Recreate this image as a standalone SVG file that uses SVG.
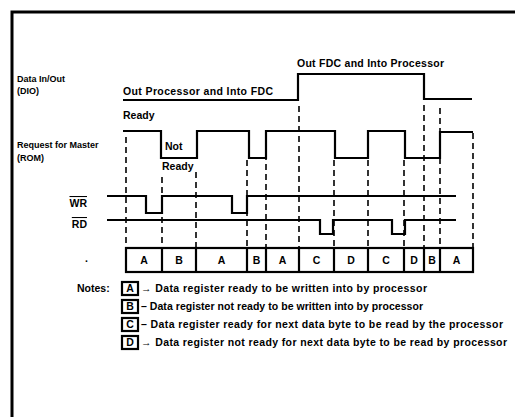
<svg xmlns="http://www.w3.org/2000/svg" width="515" height="417" viewBox="0 0 515 417">
<style>
  .lbl { font-family: "Liberation Sans", Arial, sans-serif; font-size: 9px; font-weight: bold; fill: #000; }
  .big { font-family: "Liberation Sans", Arial, sans-serif; font-size: 10.5px; font-weight: bold; fill: #000; }
  .note { font-family: "Liberation Sans", Arial, sans-serif; font-size: 10.5px; font-weight: bold; fill: #000; }
  .box { font-family: "Liberation Sans", Arial, sans-serif; font-size: 10.5px; font-weight: bold; fill: #000; text-anchor: middle; }
  .wave { fill: none; stroke: #000; stroke-width: 2.2; stroke-linejoin: miter; }
  .dash { fill: none; stroke: #000; stroke-width: 1.6; stroke-dasharray: 6 4; }
  .cell { fill: #fff; stroke: #000; stroke-width: 2.2; }
</style>
<rect width="515" height="417" fill="#fff"/>
<path d="M12,417 V12 H515" fill="none" stroke="#000" stroke-width="3"/>

<g id="labels">
  <text class="lbl" x="17" y="82">Data In/Out</text>
  <text class="lbl" x="17" y="94">(DIO)</text>
  <text class="lbl" x="17" y="148">Request for Master</text>
  <text class="lbl" x="17" y="161">(ROM)</text>
  <text class="big" x="87" y="207" text-anchor="end" text-decoration="overline">WR</text>
  <text class="big" x="87" y="228" text-anchor="end" text-decoration="overline">RD</text>
  <text class="big" x="85" y="262">.</text>
</g>

<g id="dio">
  <polyline class="wave" points="123,100 298,100 298,74 424,74 424,99 472,99"/>
  <text class="big" x="123" y="95" textLength="150" lengthAdjust="spacing">Out Processor and Into FDC</text>
  <text class="big" x="297" y="67" textLength="147" lengthAdjust="spacing">Out FDC and Into Processor</text>
</g>

<g id="rom">
  <polyline class="wave" points="123,131 161,131 161,158 197,158 197,131 249,131 249,158 266,158 266,131 335,131 335,158 368,158 368,131 405,131 405,158 440,158 440,132 473,132"/>
  <text class="big" x="123" y="119">Ready</text>
  <text class="big" x="165" y="150">Not</text>
  <text class="big" x="162" y="170">Ready</text>
</g>

<g id="wr">
  <polyline class="wave" points="107,196 146,196 146,213 162,213 162,196 232,196 232,213 247,213 247,196 456,196"/>
</g>

<g id="rd">
  <polyline class="wave" points="107,220 320,220 320,234 333,234 333,220 392,220 392,234 405,234 405,220 456,220"/>
</g>

<g id="connectors">
  <line class="dash" x1="126" y1="137" x2="126" y2="248"/>
  <line class="dash" x1="162" y1="177" x2="162" y2="248"/>
  <line class="dash" x1="196" y1="172" x2="196" y2="248"/>
  <line class="dash" x1="247" y1="160" x2="247" y2="248"/>
  <line class="dash" x1="266" y1="134" x2="266" y2="248"/>
  <line class="dash" x1="299" y1="106" x2="299" y2="248"/>
  <line class="dash" x1="334" y1="160" x2="334" y2="248"/>
  <line class="dash" x1="368" y1="160" x2="368" y2="248"/>
  <line class="dash" x1="404" y1="160" x2="404" y2="248"/>
  <line class="dash" x1="424" y1="105" x2="424" y2="248"/>
  <line class="dash" x1="440" y1="108" x2="440" y2="248"/>
  <line class="dash" x1="473" y1="133" x2="473" y2="248"/>
</g>

<g id="states">
  <rect class="cell" x="126" y="248" width="347" height="24"/>
  <path d="M162,248V272 M196,248V272 M247,248V272 M266,248V272 M299,248V272 M334,248V272 M368,248V272 M404,248V272 M424,248V272 M440,248V272" stroke="#000" stroke-width="2.2"/>
  <text class="box" x="144" y="264">A</text>
  <text class="box" x="179" y="264">B</text>
  <text class="box" x="221.5" y="264">A</text>
  <text class="box" x="256.5" y="264">B</text>
  <text class="box" x="282.5" y="264">A</text>
  <text class="box" x="316.5" y="264">C</text>
  <text class="box" x="351" y="264">D</text>
  <text class="box" x="386" y="264">C</text>
  <text class="box" x="414" y="264">D</text>
  <text class="box" x="432" y="264">B</text>
  <text class="box" x="456.5" y="264">A</text>
</g>

<g id="notes">
  <text class="big" x="77" y="292">Notes:</text>
  <rect class="cell" x="122" y="282" width="16" height="13"/>
  <text class="box" x="130" y="292">A</text>
  <text class="note" x="141" y="292" textLength="286" lengthAdjust="spacing">→ Data register ready to be written into by processor</text>
  <rect class="cell" x="122" y="300" width="16" height="13"/>
  <text class="box" x="130" y="310">B</text>
  <text class="note" x="141" y="310" textLength="282" lengthAdjust="spacing">– Data register not ready to be written into by processor</text>
  <rect class="cell" x="122" y="318" width="16" height="13"/>
  <text class="box" x="130" y="328">C</text>
  <text class="note" x="141" y="328" textLength="362" lengthAdjust="spacing">– Data register ready for next data byte to be read by the processor</text>
  <rect class="cell" x="122" y="336" width="16" height="13"/>
  <text class="box" x="130" y="346">D</text>
  <text class="note" x="141" y="346" textLength="366" lengthAdjust="spacing">→ Data register not ready for next data byte to be read by processor</text>
</g>
</svg>
